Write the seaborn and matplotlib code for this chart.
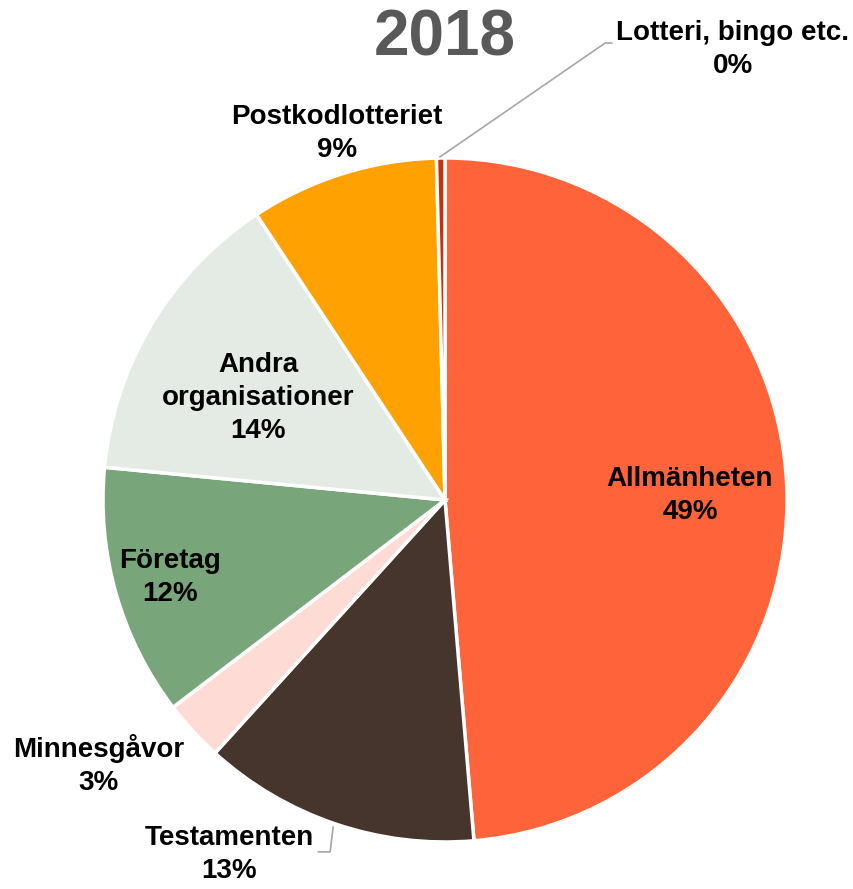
import matplotlib
matplotlib.use("Agg")
import matplotlib.pyplot as plt
import seaborn as sns

# data (share of income, %)
categories = ['Allmänheten', 'Testamenten', 'Minnesgåvor', 'Företag',
              'Andra\norganisationer', 'Postkodlotteriet', 'Lotteri, bingo etc.']
shares = [48.7, 13.1, 2.9, 11.9, 14.2, 8.9, 0.4]
colors = ['#FF633A', '#46352C', '#FFDBD5', '#79A57B', '#E3EBE4', '#FFA101', '#C8300E']
title = '2018'

sns.set_theme(style='white')
plt.rcParams['font.family'] = ['Liberation Sans', 'DejaVu Sans']

fig = plt.figure(figsize=(8.54, 8.89), dpi=100)
ax = fig.add_axes([0.1206, 0.0529, 0.801, 0.7694])

ax.pie(shares, colors=colors, startangle=90, counterclock=False, radius=1,
       wedgeprops=dict(edgecolor='white', linewidth=2.5))
ax.set_xlim(-1, 1)
ax.set_ylim(-1, 1)
ax.set_aspect('equal')
ax.axis('off')

# label positions in data units (pie radius = 1)
label_pos = [(0.716, 0.012), (-0.632, -1.038), (-1.012, -0.775), (-0.804, -0.228),
             (-0.547, 0.298), (-0.316, 1.073), (0.842, 1.316)]
for name, v, (x, y) in zip(categories, shares, label_pos):
    ax.text(x, y, f"{name}\n{round(v)}%", ha='center', va='center',
            fontsize=20, fontweight='bold', color='black', linespacing=1.35,
            clip_on=False)

# leader lines
ax.plot([-0.015, 0.468, 0.488], [1.003, 1.336, 1.336], color='#A6A6A6', lw=1.2, clip_on=False)
ax.plot([-0.327, -0.336, -0.371], [-0.956, -1.029, -1.029], color='#A6A6A6', lw=1.2, clip_on=False)

fig.text(445 / 854, 1 - 38 / 889, title, ha='center', va='center',
         fontsize=46, fontweight='bold', color='#595959')

fig.savefig('out.png', dpi=100)
